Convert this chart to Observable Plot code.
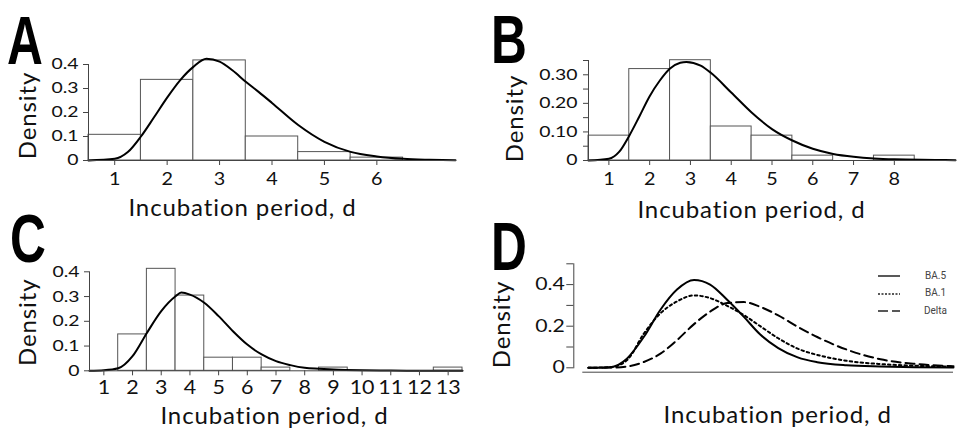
<!DOCTYPE html>
<html><head><meta charset="utf-8">
<script src="https://cdn.jsdelivr.net/npm/d3@7"></script>
<script src="https://cdn.jsdelivr.net/npm/@observablehq/plot@0.6"></script>
<style>
body{margin:0;background:#fff;}
#wrap{position:relative;width:961px;height:428px;overflow:hidden;background:#fff;font-family:Lato,sans-serif;color:#111;}
.panel{position:absolute;}
#letters{position:absolute;left:0;top:0;}
#letters text{font-family:"Liberation Sans",Arial,sans-serif;font-weight:bold;font-size:69px;fill:#000;}
svg g[aria-label="x-axis tick label"]{font-size:18px;}
svg g[aria-label="y-axis tick label"]{font-size:15.5px;}
svg.pC g[aria-label="x-axis tick label"]{font-size:19.5px;}
svg.pD g[aria-label="y-axis tick label"]{font-size:17px;}
svg g[aria-label="text"] text{letter-spacing:0.9px;}
.leg{position:absolute;font-family:Roboto,sans-serif;font-size:10px;color:#444;}
</style>
</head><body>
<div id="wrap"></div>
<script>
// ---------- Panel A (BA.5) ----------
const edgesA = [0.5,1.5,2.5,3.5,4.5,5.5,6.5];
const histA  = [0.107,0.336,0.417,0.100,0.035,0.012];
const curveDaysA = [0.5,1,1.25,1.5,1.75,2,2.25,2.5,2.75,3,3.25,3.5,3.75,4,4.5,5,5.5,6,6.5,7,7.5];
const curveDensA = [0,0.007,0.035,0.1,0.18,0.262,0.335,0.39,0.424,0.412,0.375,0.328,0.285,0.24,0.148,0.078,0.036,0.017,0.007,0.003,0.001];
const xTicksA = [1,2,3,4,5,6];
const yTicksA = [0,0.1,0.2,0.3,0.4];
const yLabelsA = ["0","0.1","0.2","0.3","0.4"];

// ---------- Panel B (BA.1) ----------
const edgesB = [0.5,1.5,2.5,3.5,4.5,5.5,6.5,7.5,8.5];
const histB  = [0.087,0.320,0.351,0.119,0.087,0.017,0,0.017];
const curveDaysB = [0.5,1,1.25,1.5,1.75,2,2.25,2.5,2.75,2.9,3.25,3.5,4,4.5,5,5.5,6,6.5,7,7.5,8,9,9.5];
const curveDensB = [0,0.006,0.03,0.087,0.155,0.225,0.28,0.322,0.342,0.345,0.332,0.307,0.238,0.168,0.11,0.07,0.041,0.023,0.013,0.007,0.004,0.002,0.001];
const xTicksB = [1,2,3,4,5,6,7,8];
const yTicksB = [0,0.05,0.1,0.15,0.2,0.25,0.3,0.35];
const yLabelsB = ["0","","0.10","","0.20","","0.30",""];

// ---------- Panel C (Delta) ----------
const edgesC = [1.5,2.5,3.5,4.5,5.5,6.5,7.5,8.5,9.5,10.5,11.5,12.5,13.5];
const histC  = [0.147,0.412,0.304,0.053,0.053,0.013,0,0.013,0,0,0,0.013];
const curveDaysC = [0.5,1,1.5,2,2.5,3,3.5,3.7,4,4.5,5,5.5,6,6.5,7,7.5,8,8.5,9,10,11,12,13.5];
const curveDensC = [0,0.002,0.01,0.059,0.153,0.241,0.301,0.316,0.308,0.275,0.221,0.16,0.106,0.066,0.039,0.023,0.012,0.008,0.005,0.002,0.001,0,0];
const xTicksC = [1,2,3,4,5,6,7,8,9,10,11,12,13];
const yTicksC = [0,0.1,0.2,0.3,0.4];
const yLabelsC = ["0","0.1","0.2","0.3","0.4"];

// ---------- Panel D (comparison) ----------
const seriesD = ["BA.5","BA.1","Delta"];
const daysD  = [0.5,0.95,1.29,1.64,1.98,2.32,2.67,3.0,3.35,3.69,4.03,4.4,4.8,5.2,5.8,6.5,7.2,8.0];
const ba5D   = [0,0.003,0.044,0.149,0.279,0.376,0.422,0.4,0.327,0.246,0.16,0.095,0.05,0.027,0.012,0.006,0.003,0.002];
const ba1D   = [0,0.003,0.036,0.165,0.262,0.319,0.348,0.335,0.298,0.254,0.2,0.142,0.092,0.062,0.034,0.018,0.01,0.006];
const deltaD = [0,0.001,0.006,0.028,0.068,0.133,0.21,0.27,0.311,0.316,0.293,0.252,0.197,0.148,0.088,0.041,0.019,0.008];
const yTicksD = [0,0.1,0.2,0.3,0.4,0.5];
const yLabelsD = ["0","","0.2","","0.4",""];

const panelLetters = ["A","B","C","D"];
const xTitle = "Incubation period, d";
const yTitle = "Density";

const wrap = document.getElementById("wrap");

function bins(edges, h){ return h.map((v,i)=>({x1:edges[i], x2:edges[i+1], y:v})); }
function pts(xs, ys){ return xs.map((x,i)=>({x, y:ys[i]})); }
function fmt(ticks, labels){ const m = new Map(ticks.map((t,i)=>[t,labels[i]])); return d => m.get(d) ?? ""; }

function stretch(svg, axis, s){
  svg.querySelectorAll(`g[aria-label="${axis}-axis tick label"] text`).forEach(t=>{
    const tr = t.getAttribute("transform");
    if (tr) t.setAttribute("transform", tr + ` scale(${s},1)`);
    else {
      const x = +t.getAttribute("x")||0, y = +t.getAttribute("y")||0;
      t.setAttribute("x",0); t.setAttribute("y",0);
      t.setAttribute("transform", `translate(${x},${y}) scale(${s},1)`);
    }
  });
}

function place(svg, left, top){
  const d = document.createElement("div");
  d.className = "panel"; d.style.left = left+"px"; d.style.top = top+"px";
  d.appendChild(svg); wrap.appendChild(d);
}

function titles(o){
  return [
    Plot.text([xTitle], {frameAnchor:"bottom", lineAnchor:"top", textAnchor:"middle", dx:o.lx, dy:o.ly, fontSize:24, fill:"#111"}),
    Plot.text([yTitle], {frameAnchor:"left", rotate:-90, textAnchor:"middle", lineAnchor:"middle", dx:o.dx, dy:o.dy, fontSize:24, fill:"#111"})
  ];
}

function histPanel(o){
  const svg = Plot.plot({
    className: o.cls,
    width: o.w, height: o.h,
    marginLeft: o.ml, marginRight: o.mr, marginTop: o.mt, marginBottom: o.mb,
    style: "font-family:Lato,sans-serif;color:#111;overflow:visible;background:transparent",
    x: {domain: o.xd, label: null},
    y: {domain: o.yd, label: null},
    marks: [
      Plot.rectY(o.bars, {x1:"x1", x2:"x2", y:"y", fill:"white", stroke:"#555", strokeWidth:1}),
      Plot.line(o.curve, {x:"x", y:"y", curve:"monotone-x", stroke:"#000", strokeWidth:2}),
      Plot.frame({anchor:"left", stroke:"#444"}),
      Plot.frame({anchor:"bottom", stroke:"#444"}),
      Plot.axisX(o.xt, {tickSize:5, tickPadding:o.xpad, stroke:"#444", fill:"#111"}),
      Plot.axisY(o.yt, {tickSize:5, tickPadding:o.ypad, stroke:"#444", fill:"#111", tickFormat: fmt(o.yt, o.yl)}),
      ...titles(o)
    ]
  });
  stretch(svg, "y", 1.25);
  stretch(svg, "x", 1.1);
  return svg;
}

// A
place(histPanel({cls:"pA", w:480, h:214, ml:88, mr:25, mt:64, mb:54, xd:[0.5,7.5], yd:[0,0.4],
  bars:bins(edgesA,histA), curve:pts(curveDaysA,curveDensA), xt:xTicksA, yt:yTicksA, yl:yLabelsA,
  xpad:7, ypad:5, lx:-29.5, ly:38, dx:-60, dy:3}), 0, 0);
// B
place(histPanel({cls:"pB", w:481, h:214, ml:108, mr:6, mt:60, mb:54, xd:[0.5,9.5], yd:[0,0.35],
  bars:bins(edgesB,histB), curve:pts(curveDaysB,curveDensB), xt:xTicksB, yt:yTicksB, yl:yLabelsB,
  xpad:7, ypad:6, lx:-20.5, ly:40, dx:-73, dy:8}), 480, 0);
// C
place(histPanel({cls:"pC", w:480, h:214, ml:89, mr:18, mt:57.3, mb:57.7, xd:[0.5,13.5], yd:[0,0.4],
  bars:bins(edgesC,histC), curve:pts(curveDaysC,curveDensC), xt:xTicksC, yt:yTicksC, yl:yLabelsC,
  xpad:4, ypad:5, lx:-1.5, ly:36, dx:-61, dy:1}), 0, 214);

// D
const dashes = [null, "2.5,3", "9,5"];
const dataD = [ba5D, ba1D, deltaD];
const svgD = Plot.plot({
  className:"pD",
  width:481, height:214, marginLeft:93.3, marginRight:8, marginTop:49.3, marginBottom:60.7,
  style:"font-family:Lato,sans-serif;color:#111;overflow:visible;background:transparent",
  x:{domain:[0.2,8.0], label:null, axis:null},
  y:{domain:[0,0.5], label:null},
  marks:[
    ...dataD.map((ys,i)=>Plot.line(pts(daysD, ys), {x:"x", y:"y", curve:"monotone-x", stroke:"#000", strokeWidth:2, strokeDasharray: dashes[i]})),
    Plot.frame({anchor:"left", stroke:"#444"}),
    Plot.ruleY([0], {dy:4.4, insetLeft:9, stroke:"#444"}),
    Plot.axisY(yTicksD, {tickSize:7, tickPadding:2, stroke:"#444", fill:"#111", tickFormat: fmt(yTicksD, yLabelsD)}),
    ...titles({lx:14, ly:38, dx:-71, dy:8.7})
  ]
});
stretch(svgD, "y", 1.25);
place(svgD, 480, 214);

// legend (D)
seriesD.forEach((name,i)=>{
  const cy = 276.3 + i*17.4;
  const s = document.createElementNS("http://www.w3.org/2000/svg","svg");
  s.setAttribute("width",24); s.setAttribute("height",6);
  s.style.position="absolute"; s.style.left="877px"; s.style.top=(cy-3)+"px";
  const l = document.createElementNS("http://www.w3.org/2000/svg","line");
  l.setAttribute("x1",1); l.setAttribute("x2",23); l.setAttribute("y1",3); l.setAttribute("y2",3);
  l.setAttribute("stroke","#222"); l.setAttribute("stroke-width",1.5);
  if (dashes[i]) l.setAttribute("stroke-dasharray", i===2 ? "10,4" : "2,1.5");
  s.appendChild(l); wrap.appendChild(s);
  const t = document.createElement("div");
  t.className="leg"; t.textContent=name;
  t.style.left="912px"; t.style.width="47px"; t.style.textAlign="center";
  t.style.top=(cy-6.5)+"px"; t.style.lineHeight="12px";
  wrap.appendChild(t);
});

// panel letters (SVG overlay, positioned by baseline)
const NS = "http://www.w3.org/2000/svg";
const ov = document.createElementNS(NS,"svg");
ov.setAttribute("id","letters"); ov.setAttribute("width",961); ov.setAttribute("height",428);
const letterPos = [[7,64],[491,63],[10,262],[491,270]];
panelLetters.forEach((ch,i)=>{
  const t = document.createElementNS(NS,"text");
  t.textContent = ch;
  t.setAttribute("transform", `translate(${letterPos[i][0]},${letterPos[i][1]}) scale(0.72,1)`);
  ov.appendChild(t);
});
wrap.appendChild(ov);
</script>
</body></html>
